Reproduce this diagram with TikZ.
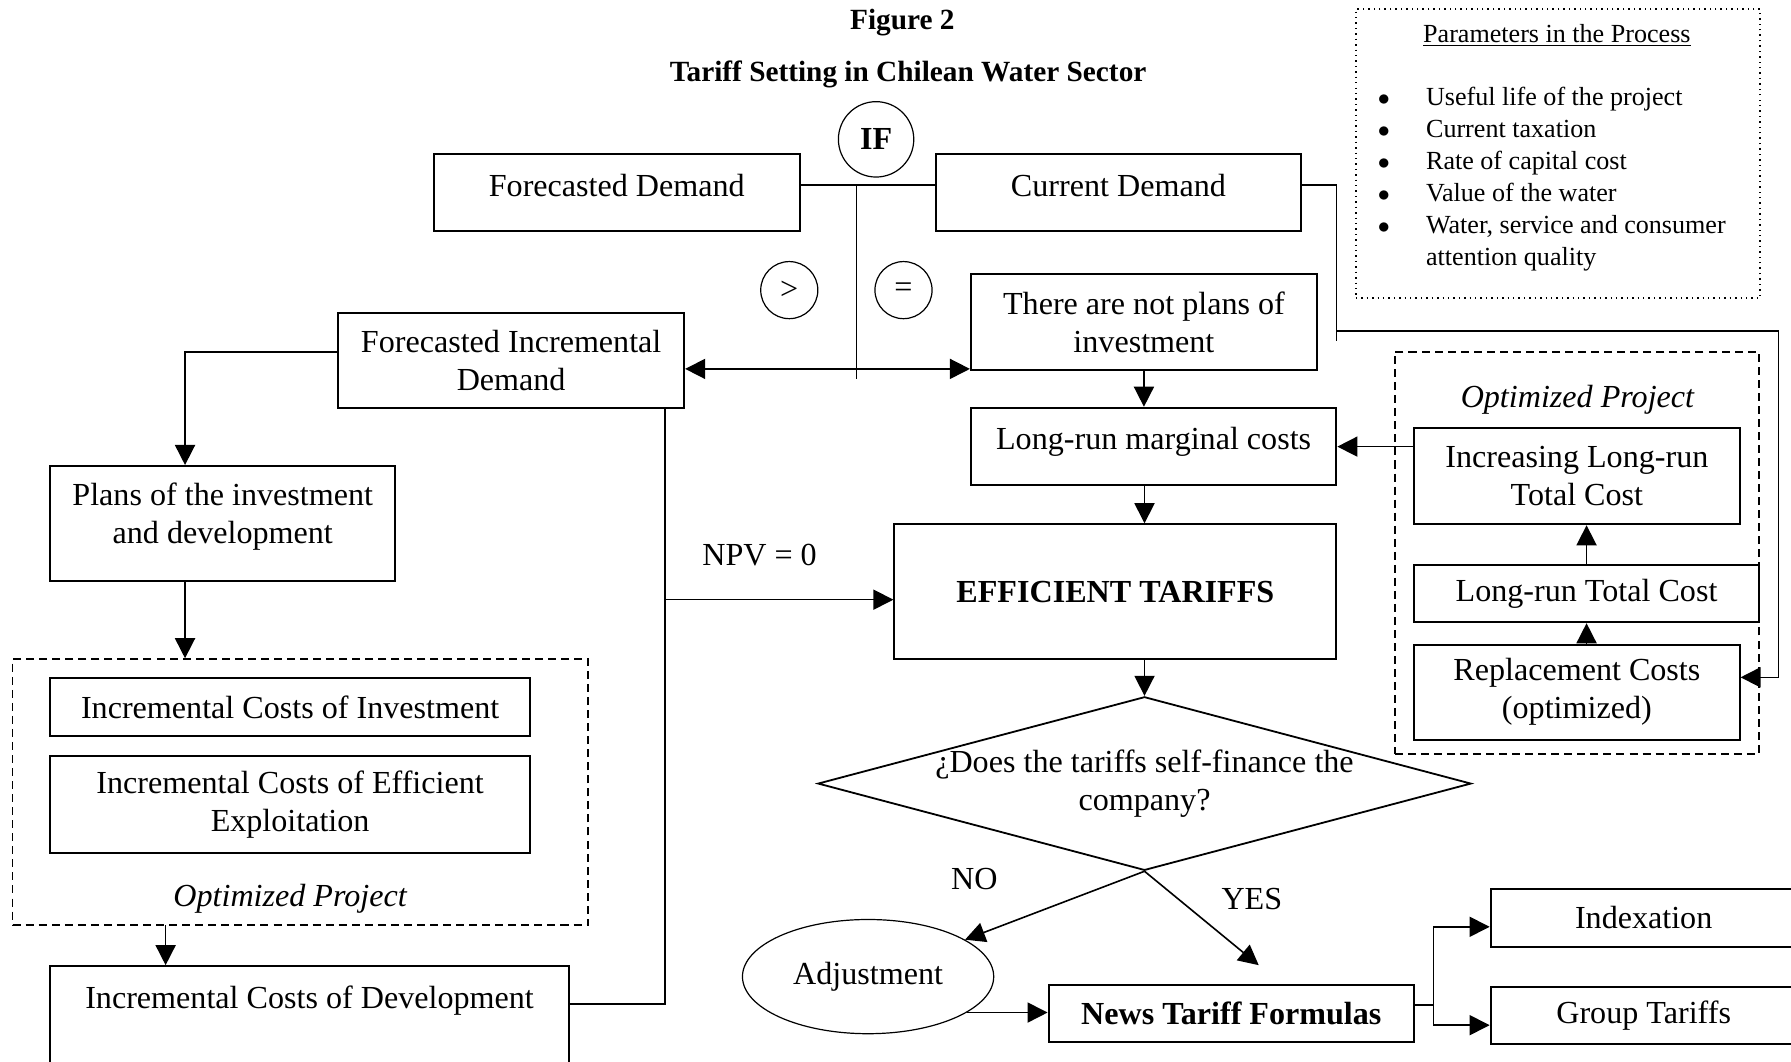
\documentclass[tikz,border=0pt]{standalone}
\usepackage{fontspec}
\setmainfont{Liberation Serif}
\usepackage{tikz}
\usetikzlibrary{arrows.meta}
\usetikzlibrary{shapes.geometric}
\usetikzlibrary{positioning}
\usetikzlibrary{calc}
\tikzstyle{box} = [draw, line width=1pt, inner sep=0pt, align=center]
\tikzstyle{optbox} = [draw, dash pattern=on 4pt off 2.5pt, line width=0.8pt, inner sep=0pt]
\tikzstyle{parambox} = [draw, dotted, line width=0.7pt, inner sep=0pt]
\tikzstyle{ifcircle} = [draw, circle, line width=0.6pt, inner sep=0pt]
\tikzstyle{decision} = [draw, diamond, line width=0.9pt, inner sep=0pt]
\tikzstyle{connector} = [line width=0.8pt]
\tikzstyle{arrow} = [line width=0.8pt, -{Triangle[length=10pt,width=10pt]}]

\begin{document}
\fontsize{16}{19}\selectfont
\begin{tikzpicture}[x=0.02cm, y=-0.02cm]

				\useasboundingbox (0,0) rectangle (1568,929);

				% Title
				\node[font=\fontsize{14.6}{17}\selectfont\bfseries] (fig) at (790,20) {Figure 2};
				\node[font=\fontsize{14.6}{17}\selectfont\bfseries] (title) at (795,65) {Tariff Setting in Chilean Water Sector};

				% Demands
				\node[ifcircle, minimum size=1.32cm, font=\bfseries] (ifc) at (767,122) {IF};
				\node[box, minimum width=6.4cm, minimum height=1.34cm, text depth=7.4pt] (fdem) at (540,168.5) {Forecasted Demand};
				\node[box, minimum width=6.38cm, minimum height=1.34cm, text depth=7.4pt, right = 2.36 cm of fdem] (cdem) {Current Demand};
				\node[ifcircle, minimum size=1cm] (gt) at (691,254) {>};
				\node[ifcircle, minimum size=1cm] (eq) at (791,254) {=};
				\coordinate (ifjoin) at (750,162);
				\coordinate[below = 3.4 cm of ifjoin] (ifend);
				\coordinate[below = 3.22 cm of ifjoin] (split);

				\draw[connector] (fdem.east |- ifjoin) -- (cdem.west |- ifjoin);
				\draw[connector] (ifjoin) -- (ifend);

				% Incremental demand or no plans
				\node[box, minimum width=6.06cm, minimum height=1.66cm] (fidem) at (447.5,315.5) {Forecasted Incremental\\Demand};
				\node[box, minimum width=6.06cm, minimum height=1.68cm] (noplan) at (1001.5,282) {There are not plans of\\investment};
				\draw[arrow] (split) -- (fidem.east |- split);
				\draw[arrow] (split) -- (noplan.west |- split);

				% Costs and tariffs
				\node[box, minimum width=6.4cm, minimum height=1.36cm, text depth=8pt] (lrmc) at (1010,391) {Long-run marginal costs};
				\node[box, minimum width=7.74cm, minimum height=2.36cm, font=\bfseries] (efft) at (976.5,518) {EFFICIENT TARIFFS};
				\node[decision, minimum width=11.44cm, minimum height=3.04cm] (question) at (1002,686) {};
				\node[align=center] (qtext) at (question.center) {¿Does the tariffs self-finance the\\company?};
				\draw[arrow] (noplan.south) -- (noplan.south |- lrmc.north);
				\draw[arrow] (lrmc.south -| question.north) -- (efft.north -| question.north);
				\draw[arrow] (efft.south -| question.north) -- (question.north);

				% Optimized project (right)
				\node[optbox, minimum width=6.38cm, minimum height=7.04cm] (opt2) at (1380.5,484) {};
				\node[font=\itshape] (opt2lbl) at (1381,350) {Optimized Project};
				\node[box, minimum width=5.7cm, minimum height=1.68cm] (ilrtc) at (1380.5,417) {Increasing Long-run\\Total Cost};
				\node[box, minimum width=6.04cm, minimum height=1cm, below = 0.68 cm of ilrtc.south west, anchor=north west] (lrtc) {Long-run Total Cost};
				\node[box, minimum width=5.7cm, minimum height=1.66cm, below = 0.36 cm of lrtc.south west, anchor=north west] (repc) {Replacement Costs\\(optimized)};
				\draw[arrow] (ilrtc.west |- lrmc.east) -- (lrmc.east);
				\draw[arrow] (lrtc.north) -- (lrtc.north |- ilrtc.south);
				\draw[arrow] (repc.north -| lrtc.north) -- (lrtc.south);

				% Current demand to replacement costs
				\coordinate (cdr) at (1170,162);
				\coordinate[below = 2.74 cm of cdr] (cdd);
				\coordinate (rtop) at (1557,290);
				\coordinate (rbot) at (1557,593);
				\draw[connector] (cdem.east |- ifjoin) -- (cdr) -- (cdd);
				\draw[arrow] (cdd |- rtop) -- (rtop) -- (rbot) -- (repc.east |- rbot);

				% Parameters
				\node[parambox, minimum width=7.08cm, minimum height=5.06cm] (params) at (1364,134.5) {};
				\node[font=\fontsize{13}{16}\selectfont] (ptitle) at (1363,31) {\underline{Parameters in the Process}};
				\node[font=\fontsize{13}{16}\selectfont, anchor=north west, inner sep=0pt] (plist) at (1206,72) {%
					\begin{tabular}{@{}l@{\hspace{18pt}}l@{}}
					$\bullet$ & Useful life of the project\\
					$\bullet$ & Current taxation\\
					$\bullet$ & Rate of capital cost\\
					$\bullet$ & Value of the water\\
					$\bullet$ & Water, service and consumer\\
					 & attention quality
					\end{tabular}};

				% Decision outcomes
				\node[draw, ellipse, line width=0.6pt, minimum width=4.4cm, minimum height=2cm, inner sep=0pt] (adj) at (760,855) {Adjustment};
				\node[box, minimum width=6.4cm, minimum height=1cm, font=\bfseries] (ntf) at (1078,887) {News Tariff Formulas};
				\node[box, minimum width=5.36cm, minimum height=1.02cm] (idx) at (1439,803.5) {Indexation};
				\node[box, minimum width=5.36cm, minimum height=1cm, below = 0.66 cm of idx] (grp) {Group Tariffs};
				\node (no) at (853,770) {NO};
				\node (yes) at (1096,787) {YES};
				\coordinate (yesend) at (1102,845);
				\coordinate (fork) at (1255,880);

				\draw[arrow] (question.south) -- (adj);
				\draw[arrow] (question.south) -- (yesend);
				\draw[arrow] (adj.-20) -- (ntf.west |- adj.-20);
				\draw[connector] (ntf.east |- fork) -- (fork);
				\draw[arrow] (fork) |- ([yshift=-4.5pt]idx.west);
				\draw[arrow] (fork) |- ([yshift=-5pt]grp.west);

				% Left branch
				\coordinate (lcorner) at (162,308);
				\coordinate (dcol) at (145,810);
				\node[box, minimum width=6.04cm, minimum height=2.02cm, text depth=10.3pt] (plans) at (195,458.5) {Plans of the investment\\and development};
				\node[optbox, minimum width=10.08cm, minimum height=4.66cm] (opt1) at (263,693.5) {};
				\node[box, minimum width=8.4cm, minimum height=1cm] (ici) at (254,619) {Incremental Costs of Investment};
				\node[box, minimum width=8.4cm, minimum height=1.7cm, below = 0.32 cm of ici] (icee) {Incremental Costs of Efficient\\Exploitation};
				\node[font=\itshape] (opt1lbl) at (254,787) {Optimized Project};
				\node[box, minimum width=9.08cm, text height=21pt, text depth=44pt, anchor=north] (icd) at (271,845) {Incremental Costs of Development};
				\draw[arrow] (fidem.west |- lcorner) -- (lcorner) -- (lcorner |- plans.north);
				\draw[arrow] (lcorner |- plans.south) -- (lcorner |- opt1.north);
				\draw[arrow] (dcol) -- (dcol |- icd.north);

				% NPV = 0
				\coordinate (npvcol) at (582,879);
				\coordinate (npvjoin) at (582,525);
				\draw[connector] (icd.east |- npvcol) -- (npvcol) -- (npvcol |- fidem.south);
				\draw[arrow] (npvjoin) -- (efft.west |- npvjoin);
				\node (npv) at (665,486) {NPV = 0};

\end{tikzpicture}
\end{document}
